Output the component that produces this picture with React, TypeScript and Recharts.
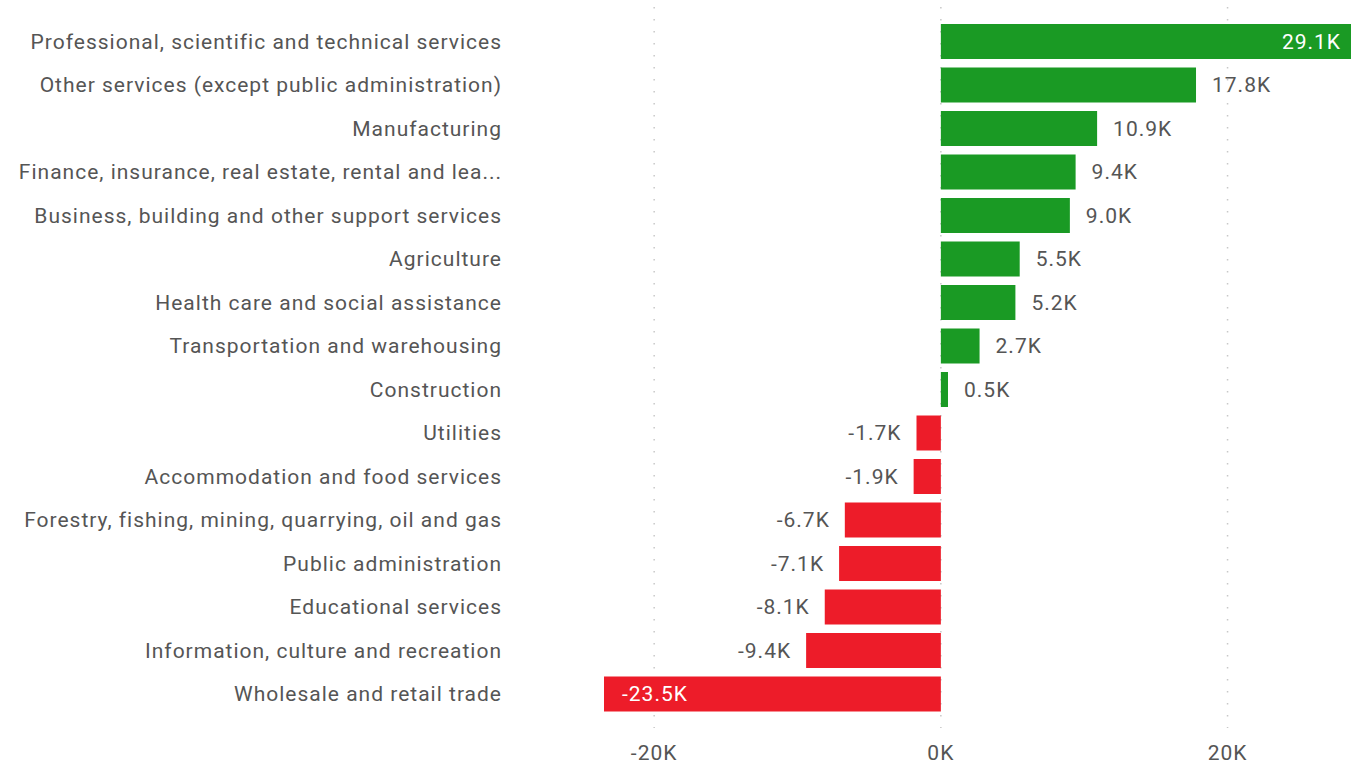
import React from "react";
import { BarChart, Bar, XAxis, YAxis, CartesianGrid, Cell, LabelList } from "recharts";

const categories = [
  "Professional, scientific and technical services",
  "Other services (except public administration)",
  "Manufacturing",
  "Finance, insurance, real estate, rental and lea...",
  "Business, building and other support services",
  "Agriculture",
  "Health care and social assistance",
  "Transportation and warehousing",
  "Construction",
  "Utilities",
  "Accommodation and food services",
  "Forestry, fishing, mining, quarrying, oil and gas",
  "Public administration",
  "Educational services",
  "Information, culture and recreation",
  "Wholesale and retail trade",
];

const changeK = [29.1, 17.8, 10.9, 9.4, 9.0, 5.5, 5.2, 2.7, 0.5, -1.7, -1.9, -6.7, -7.1, -8.1, -9.4, -23.5];

const xTicks = [-20, 0, 20];

const data = categories.map((name, i) => ({ name, value: changeK[i] }));
const minV = Math.min(...changeK);
const maxV = Math.max(...changeK);

const FONT = "Roboto, 'DejaVu Sans', sans-serif";
const FS = 21;
const LS = 1;
const TEXT = "#555555";
const GREEN = "#1a9a24";
const RED = "#ed1c29";

const fmt = (v: number) => `${v.toFixed(1)}K`;

const renderLabel = (props: any) => {
  const { x, y, width, height, value } = props;
  const left = Math.min(x, x + width);
  const right = Math.max(x, x + width);
  const cy = y + height / 2;
  let tx: number;
  let anchor: "start" | "end";
  let fill = TEXT;
  if (value >= 25) {
    tx = right - 17;
    anchor = "end";
    fill = "#ffffff";
  } else if (value <= -20) {
    tx = left + 18;
    anchor = "start";
    fill = "#ffffff";
  } else if (value >= 0) {
    tx = right + 16;
    anchor = "start";
  } else {
    tx = left - 15;
    anchor = "end";
  }
  return (
    <text
      x={tx}
      y={cy}
      textAnchor={anchor}
      dominantBaseline="central"
      fill={fill}
      fontSize={FS}
      letterSpacing={LS}
      fontFamily={FONT}
    >
      {fmt(value)}
    </text>
  );
};

const CategoryTick = (props: any) => {
  const { x, y, payload } = props;
  return (
    <text
      x={x - 94}
      y={y}
      textAnchor="end"
      dominantBaseline="central"
      fill={TEXT}
      fontSize={FS}
      letterSpacing={LS}
      fontFamily={FONT}
    >
      {payload.value}
    </text>
  );
};

const gridX = ({ offset }: any) =>
  xTicks.map((t) => offset.left + ((t - minV) / (maxV - minV)) * offset.width);

const GridLine = (props: any) => {
  const { x1, x2, y1, y2 } = props;
  return (
    <line
      x1={x1}
      x2={x2}
      y1={y1 - 13}
      y2={y2 + 12}
      stroke="#c8c8c8"
      strokeWidth={1.5}
      strokeDasharray="1.5 10.5"
    />
  );
};

export default function App() {
  return (
    <div style={{ position: "fixed", left: 0, top: 0, width: 1351, height: 765, overflow: "hidden", background: "#fff" }}>
      <BarChart
        width={1358}
        height={765}
        data={data}
        layout="vertical"
        margin={{ top: 20, right: 0, bottom: 19, left: 0 }}
        barSize={35}
      >
        <CartesianGrid
          horizontal={false}
          vertical={GridLine}
          verticalCoordinatesGenerator={gridX}
        />
        <XAxis
          type="number"
          domain={["dataMin", "dataMax"]}
          ticks={xTicks}
          tickFormatter={(v: number) => `${v}K`}
          axisLine={false}
          tickLine={false}
          tickSize={0}
          tickMargin={29}
          height={30}
          tick={{ fill: TEXT, fontSize: FS, fontFamily: FONT, letterSpacing: LS }}
        />
        <YAxis
          type="category"
          dataKey="name"
          width={604}
          axisLine={false}
          tickLine={false}
          interval={0}
          tick={<CategoryTick />}
        />
        <Bar dataKey="value" isAnimationActive={false}>
          {data.map((d, i) => (
            <Cell key={i} fill={d.value >= 0 ? GREEN : RED} />
          ))}
          <LabelList dataKey="value" content={renderLabel} />
        </Bar>
      </BarChart>
    </div>
  );
}
